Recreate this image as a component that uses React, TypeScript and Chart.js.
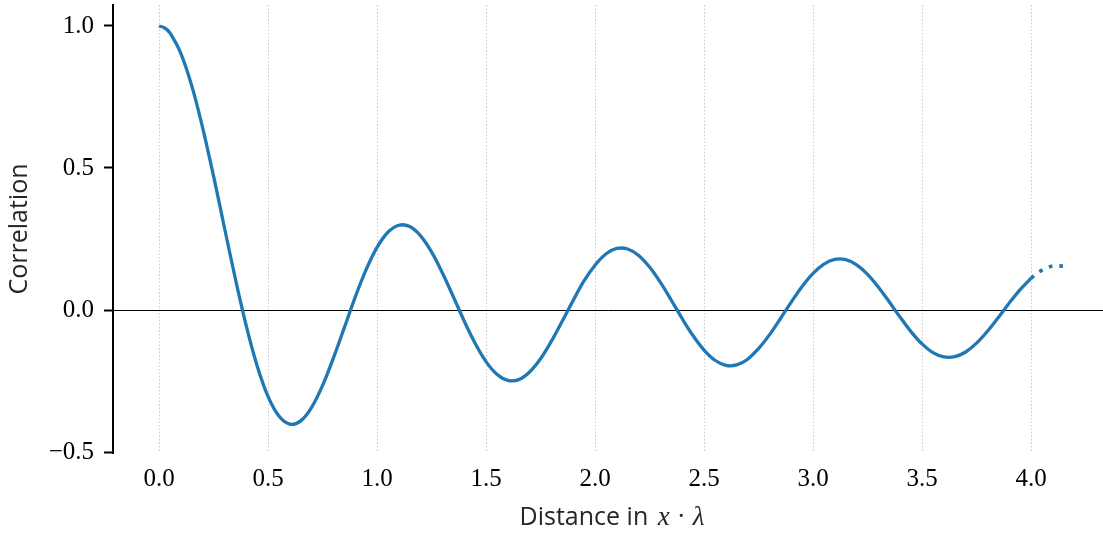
import React, { useEffect, useRef } from "react";
import { Chart, registerables } from "chart.js";

Chart.register(...registerables);

// Distance (x · λ) sample positions
const distance = [
  0.0, 0.025, 0.05, 0.1, 0.15, 0.2, 0.25, 0.3, 0.35, 0.4, 0.45,
  0.5, 0.55, 0.6, 0.65, 0.7, 0.75, 0.8, 0.85, 0.9, 0.95,
  1.0, 1.05, 1.1, 1.15, 1.2, 1.25, 1.3, 1.35, 1.4, 1.45,
  1.5, 1.55, 1.6, 1.65, 1.7, 1.75, 1.8, 1.85, 1.9, 1.95,
  2.0, 2.05, 2.1, 2.15, 2.2, 2.25, 2.3, 2.35, 2.4, 2.45,
  2.5, 2.55, 2.6, 2.65, 2.7, 2.75, 2.8, 2.85, 2.9, 2.95,
  3.0, 3.05, 3.1, 3.15, 3.2, 3.25, 3.3, 3.35, 3.4, 3.45,
  3.5, 3.55, 3.6, 3.65, 3.7, 3.75, 3.8, 3.85, 3.9, 3.95,
  4.0,
];

// Correlation values
const correlation = [
  1.0, 0.9938, 0.9755, 0.9037, 0.7899, 0.6425, 0.472, 0.2905, 0.1109, -0.0549, -0.1961,
  -0.3042, -0.3735, -0.4019, -0.3902, -0.3426, -0.2661, -0.1688, -0.0622, 0.0454, 0.142,
  0.2203, 0.2737, 0.2985, 0.2937, 0.2609, 0.2044, 0.1303, 0.0468, -0.039, -0.1171,
  -0.1818, -0.2263, -0.2479, -0.2451, -0.2181, -0.1719, -0.1095, -0.0387, 0.034, 0.1031,
  0.1578, 0.1971, 0.2166, 0.2147, 0.1919, 0.1511, 0.097, 0.0343, -0.0306, -0.0908,
  -0.1412, -0.1769, -0.1947, -0.1934, -0.1733, -0.1358, -0.0875, -0.0308, 0.0279, 0.0829,
  0.129, 0.1619, 0.1784, 0.1773, 0.159, 0.1256, 0.0804, 0.0282, -0.026, -0.0769,
  -0.1194, -0.1501, -0.1653, -0.1645, -0.1478, -0.1168, -0.0748, -0.0262, 0.0244, 0.072,
  0.112,
];

// Dotted continuation beyond 4.0
const extDistance = [4.0, 4.05, 4.1, 4.15];
const extCorrelation = [0.112, 0.1405, 0.1551, 0.1544];

const xTicks = [0, 0.5, 1.0, 1.5, 2.0, 2.5, 3.0, 3.5, 4.0];
const xTickLabels = ["0.0", "0.5", "1.0", "1.5", "2.0", "2.5", "3.0", "3.5", "4.0"];
const yTicks = [-0.5, 0, 0.5, 1.0];
const yTickLabels = ["\u22120.5", "0.0", "0.5", "1.0"];

const yTitle = "Correlation";
const xTitleText = "Distance in ";

const BLUE = "#1f77b4";
const TICK_FONT = { family: "'Liberation Serif', 'DejaVu Serif', serif", size: 25 };

const zeroPad = (s: any) => {
  s.paddingTop = 0;
  s.paddingBottom = 0;
  s.paddingLeft = 0;
  s.paddingRight = 0;
};

const xTitlePlugin = {
  id: "xTitleMixed",
  afterDraw(chart: any) {
    const ctx = chart.ctx as CanvasRenderingContext2D;
    ctx.save();
    ctx.fillStyle = "#262626";
    ctx.textBaseline = "alphabetic";
    const sans = "25px 'Open Sans'";
    const ital = "italic 27px 'Liberation Serif'";
    const upr = "27px 'Liberation Serif'";
    const parts: [string, string, number][] = [
      [xTitleText, sans, 0],
      ["x", ital, 3],
      ["\u00B7", upr, 7],
      ["\u03BB", ital, 7],
    ];
    let total = 0;
    const widths: number[] = [];
    parts.forEach(([t, f, gap]) => {
      ctx.font = f;
      const w = ctx.measureText(t).width;
      widths.push(w);
      total += w + gap;
    });
    const area = chart.chartArea;
    let x = (area.left + area.right) / 2 - total / 2 + 4;
    const y = 525;
    parts.forEach(([t, f, gap], i) => {
      x += gap;
      ctx.font = f;
      ctx.textAlign = "left";
      ctx.fillText(t, x, y);
      x += widths[i];
    });
    ctx.restore();
  },
};

export default function App() {
  const ref = useRef<HTMLCanvasElement | null>(null);

  useEffect(() => {
    if (!ref.current) return;
    const mainData = distance.map((d, i) => ({ x: d, y: correlation[i] }));
    const extData = extDistance.map((d, i) => ({ x: d, y: extCorrelation[i] }));

    const chart = new Chart(ref.current, {
      type: "line",
      data: {
        datasets: [
          {
            data: mainData,
            borderColor: BLUE,
            borderWidth: 3.3,
            pointRadius: 0,
            tension: 0.35,
            fill: false,
          },
          {
            data: extData,
            borderColor: BLUE,
            borderWidth: 3.6,
            borderDash: [3.6, 7],
            pointRadius: 0,
            tension: 0.35,
            fill: false,
          },
        ],
      },
      options: {
        animation: false,
        responsive: false,
        events: [],
        layout: { padding: { top: 5, right: 0, bottom: 0, left: 0 } },
        plugins: {
          legend: { display: false },
          tooltip: { enabled: false },
          title: { display: false },
        },
        scales: {
          x: {
            type: "linear",
            min: -0.211,
            max: 4.33,
            afterFit: (s: any) => {
              s.height = 80;
              zeroPad(s);
            },
            afterBuildTicks: (s: any) => {
              s.ticks = xTicks.map((v) => ({ value: v }));
            },
            ticks: {
              autoSkip: false,
              maxRotation: 0,
              padding: 11,
              color: "#000",
              font: TICK_FONT,
              callback: (v: any) => {
                const i = xTicks.indexOf(Number(v));
                return i >= 0 ? xTickLabels[i] : "";
              },
            },
            grid: {
              drawTicks: false,
              color: "#c8c8c8",
              lineWidth: 1,
              borderDash: [1.5, 2],
            } as any,
            border: { display: false, dash: [1.5, 2] },
          },
          y: {
            type: "linear",
            min: -0.5035,
            max: 1.0739,
            afterFit: (s: any) => {
              s.width = 113;
              zeroPad(s);
            },
            afterBuildTicks: (s: any) => {
              s.ticks = yTicks.map((v) => ({ value: v }));
            },
            ticks: {
              padding: 10,
              color: "#000",
              font: TICK_FONT,
              callback: (v: any) => {
                const i = yTicks.indexOf(Number(v));
                return i >= 0 ? yTickLabels[i] : "";
              },
            },
            grid: {
              drawTicks: true,
              tickLength: 9,
              tickColor: "#000",
              tickWidth: 2,
              lineWidth: 1,
              color: (c: any) => (c.tick && c.tick.value === 0 ? "#000" : "rgba(0,0,0,0)"),
            } as any,
            border: { display: true, color: "#000", width: 2 },
            title: {
              display: true,
              text: yTitle,
              color: "#262626",
              font: { family: "'Open Sans'", size: 25 },
              padding: { top: 5, bottom: 0 },
            },
          },
        },
      },
      plugins: [xTitlePlugin],
    } as any);

    return () => chart.destroy();
  }, []);

  return (
    <div style={{ position: "absolute", left: 0, top: 0, width: 1103, height: 533, background: "#fff" }}>
      <canvas ref={ref} width={1103} height={533} />
    </div>
  );
}
